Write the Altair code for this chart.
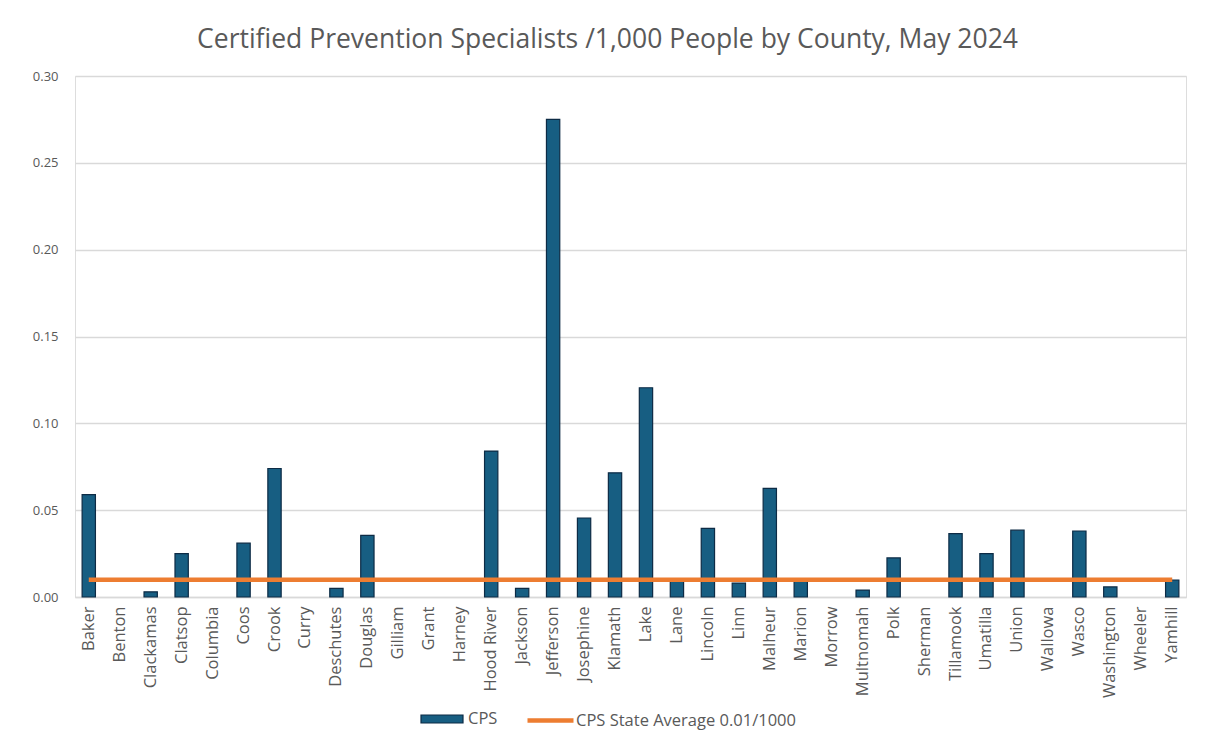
import altair as alt
import pandas as pd

counties = ["Baker", "Benton", "Clackamas", "Clatsop", "Columbia", "Coos", "Crook", "Curry",
            "Deschutes", "Douglas", "Gilliam", "Grant", "Harney", "Hood River", "Jackson",
            "Jefferson", "Josephine", "Klamath", "Lake", "Lane", "Lincoln", "Linn", "Malheur",
            "Marion", "Morrow", "Multnomah", "Polk", "Sherman", "Tillamook", "Umatilla",
            "Union", "Wallowa", "Wasco", "Washington", "Wheeler", "Yamhill"]
cps = [0.059, 0.0, 0.003, 0.025, 0.0, 0.031, 0.074, 0.0,
       0.005, 0.0355, 0.0, 0.0, 0.0, 0.084, 0.005,
       0.275, 0.0455, 0.0715, 0.1205, 0.0098, 0.0395, 0.008, 0.0625,
       0.0098, 0.0, 0.004, 0.0225, 0.0, 0.0365, 0.025,
       0.0385, 0.0, 0.038, 0.0058, 0.0, 0.0098]
state_avg = [0.01] * len(counties)

bar_label = "CPS"
line_label = "CPS State Average 0.01/1000"

df = pd.DataFrame({"County": counties, "CPS": cps, "Avg": state_avg,
                   "s1": [bar_label] * len(counties), "s2": [line_label] * len(counties)})

GRAY = "#595959"
FONT = "Open Sans"

x = alt.X("County:N", sort=None, title=None,
          scale=alt.Scale(paddingInner=0.57, paddingOuter=0.23),
          axis=alt.Axis(labelAngle=-90, labelFontSize=16.5, labelColor=GRAY, labelFont=FONT,
                        labelPadding=9, ticks=False, domain=True, domainColor="#d9d9d9",
                        domainWidth=1.5, labelLimit=200))

bars = alt.Chart(df).mark_bar(stroke="#0d2b45", strokeWidth=1.2).encode(
    x=x,
    y=alt.Y("CPS:Q", title=None,
            scale=alt.Scale(domain=[0, 0.30], nice=False),
            axis=alt.Axis(values=[0, 0.05, 0.10, 0.15, 0.20, 0.25, 0.30], format=".2f",
                          labelFontSize=13, labelColor=GRAY, labelFont=FONT, labelPadding=17,
                          ticks=False, domain=False, grid=True, gridColor="#d9d9d9",
                          gridWidth=1.3)),
    fill=alt.Fill("s1:N", title=None,
                  scale=alt.Scale(domain=[bar_label], range=["#175e82"]),
                  legend=alt.Legend(orient="none", legendX=345, legendY=621,
                                    symbolType="M-1,-0.19H1V0.19H-1Z", symbolSize=1764,
                                    symbolStrokeColor="#0d2b45", symbolStrokeWidth=1.2,
                                    labelFontSize=16.5, labelColor=GRAY, labelFont=FONT,
                                    labelOffset=4, symbolOpacity=1)),
    strokeOpacity=alt.condition("datum.CPS > 0", alt.value(1), alt.value(0)),
)

line = alt.Chart(df).mark_line(strokeWidth=4.5).encode(
    x=alt.X("County:N", sort=None),
    y=alt.Y("Avg:Q"),
    stroke=alt.Stroke("s2:N", title=None,
                      scale=alt.Scale(domain=[line_label], range=["#ed7d31"]),
                      legend=alt.Legend(orient="none", legendX=450, legendY=619,
                                        symbolType="stroke", symbolSize=2116,
                                        symbolStrokeWidth=4.5, labelLimit=400,
                                        labelFontSize=16.5, labelColor=GRAY, labelFont=FONT,
                                        labelOffset=0)),
)

chart = alt.layer(bars, line).resolve_scale(fill="independent", stroke="independent").properties(
    width=1111, height=521,
    title=alt.TitleParams("Certified Prevention Specialists /1,000 People by County, May 2024",
                          fontSize=26.5, font=FONT, fontWeight="normal", color=GRAY,
                          anchor="middle", dx=-23, offset=17),
    autosize=alt.AutoSizeParams(type="none"),
    padding={"left": 67, "top": 68, "right": 12, "bottom": 140},
).configure_view(stroke=None).configure(background="white")

chart.save("out.html", embed_options={"renderer": "svg", "actions": False})
